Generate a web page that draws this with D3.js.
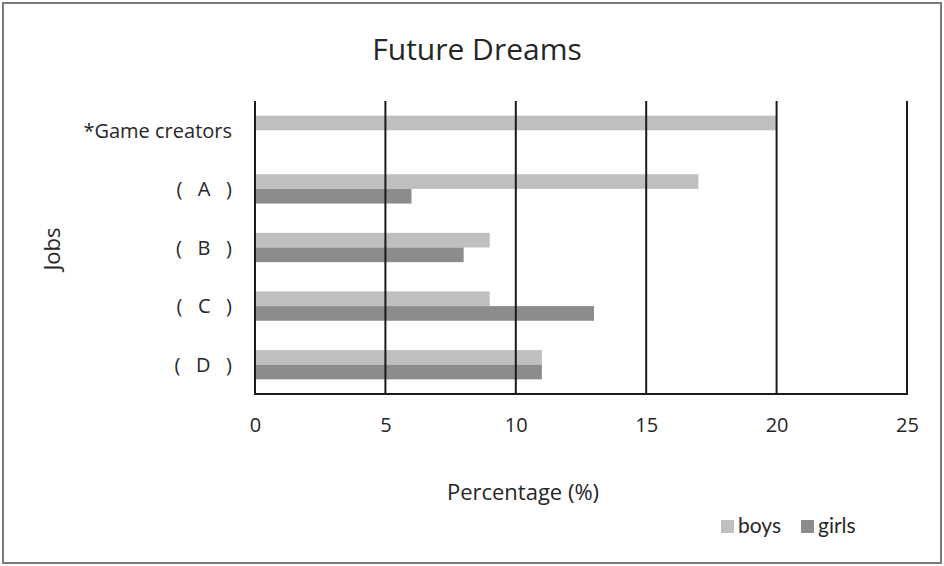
<!DOCTYPE html>
<html><head><meta charset="utf-8">
<script src="https://cdn.jsdelivr.net/npm/d3@7"></script>
<style>body{margin:0;background:#fff}svg{display:block}text{font-family:"Open Sans",Lato,sans-serif;fill:#262626}</style>
</head><body><svg id="c" width="944" height="566"></svg>
<script>
const categories = ["*Game creators", "(   A   )", "(   B   )", "(   C   )", "(   D   )"];
const seriesNames = ["boys", "girls"];
const boys = [20, 17, 9, 9, 11];
const girls = [0, 6, 8, 13, 11];
const xTicks = [0, 5, 10, 15, 20, 25];
const colors = {boys: "#bfbfbf", girls: "#8c8c8c"};

const svg = d3.select("#c");
svg.append("rect").attr("x",3).attr("y",3).attr("width",938).attr("height",560)
  .attr("fill","none").attr("stroke","#7a7a7a").attr("stroke-width",2);

const x = d3.scaleLinear().domain([0,25]).range([255,907]);
const y0 = d3.scaleBand().domain(categories).range([101,394]);
const bw = y0.bandwidth();
const y1 = d3.scaleBand().domain(seriesNames).range([bw/4, bw*3/4]);

const data = categories.map((c,i)=>({cat:c, boys:boys[i], girls:girls[i]}));

// bars
const g = svg.append("g");
data.forEach(d=>{
  seriesNames.forEach(s=>{
    if (d[s] > 0) {
      g.append("rect").attr("x", x(0)).attr("y", y0(d.cat)+y1(s))
        .attr("width", x(d[s])-x(0)).attr("height", y1.bandwidth()).attr("fill", colors[s]);
    }
  });
});

// gridlines
svg.append("g").selectAll("line").data(xTicks).join("line")
  .attr("x1",d=>x(d)).attr("x2",d=>x(d)).attr("y1",101).attr("y2",394)
  .attr("stroke","#1a1a1a").attr("stroke-width",2);
svg.append("line").attr("x1",x(0)-1).attr("x2",x(25)+1).attr("y1",394).attr("y2",394)
  .attr("stroke","#1a1a1a").attr("stroke-width",2);

// x axis labels
const xAxis = d3.axisBottom(x).tickValues(xTicks).tickSize(0).tickPadding(0);
const xg = svg.append("g").attr("transform","translate(0,418)").call(xAxis);
xg.select(".domain").remove();
xg.selectAll("text").style("font-size","20px").style("font-family","'Open Sans'").attr("dy","0.71em").attr("fill","#262626");

// y axis labels
const yAxis = d3.axisLeft(y0).tickSize(0).tickPadding(23);
const yg = svg.append("g").attr("transform",`translate(255,0)`).call(yAxis);
yg.select(".domain").remove();
yg.selectAll("text").style("font-size","20px").style("font-family","'Open Sans'").style("white-space","pre").attr("fill","#262626")
  .attr("dy","0.36em");

// title
svg.append("text").attr("x",477).attr("y",60).attr("text-anchor","middle")
  .style("font-size","30px").text("Future Dreams");
// axis titles
svg.append("text").attr("x",523).attr("y",500).attr("text-anchor","middle")
  .style("font-size","22px").text("Percentage (%)");
svg.append("text").attr("transform","translate(60,249) rotate(-90)").attr("text-anchor","middle")
  .style("font-size","22px").text("Jobs");

// legend
const leg = svg.append("g");
const legX = [721, 801];
seriesNames.forEach((s,i)=>{
  leg.append("rect").attr("x",legX[i]).attr("y",520).attr("width",13).attr("height",13).attr("fill",colors[s]);
  leg.append("text").attr("x",legX[i]+17).attr("y",533).style("font-size","21px").style("font-family","Lato").text(s);
});
</script></body></html>
